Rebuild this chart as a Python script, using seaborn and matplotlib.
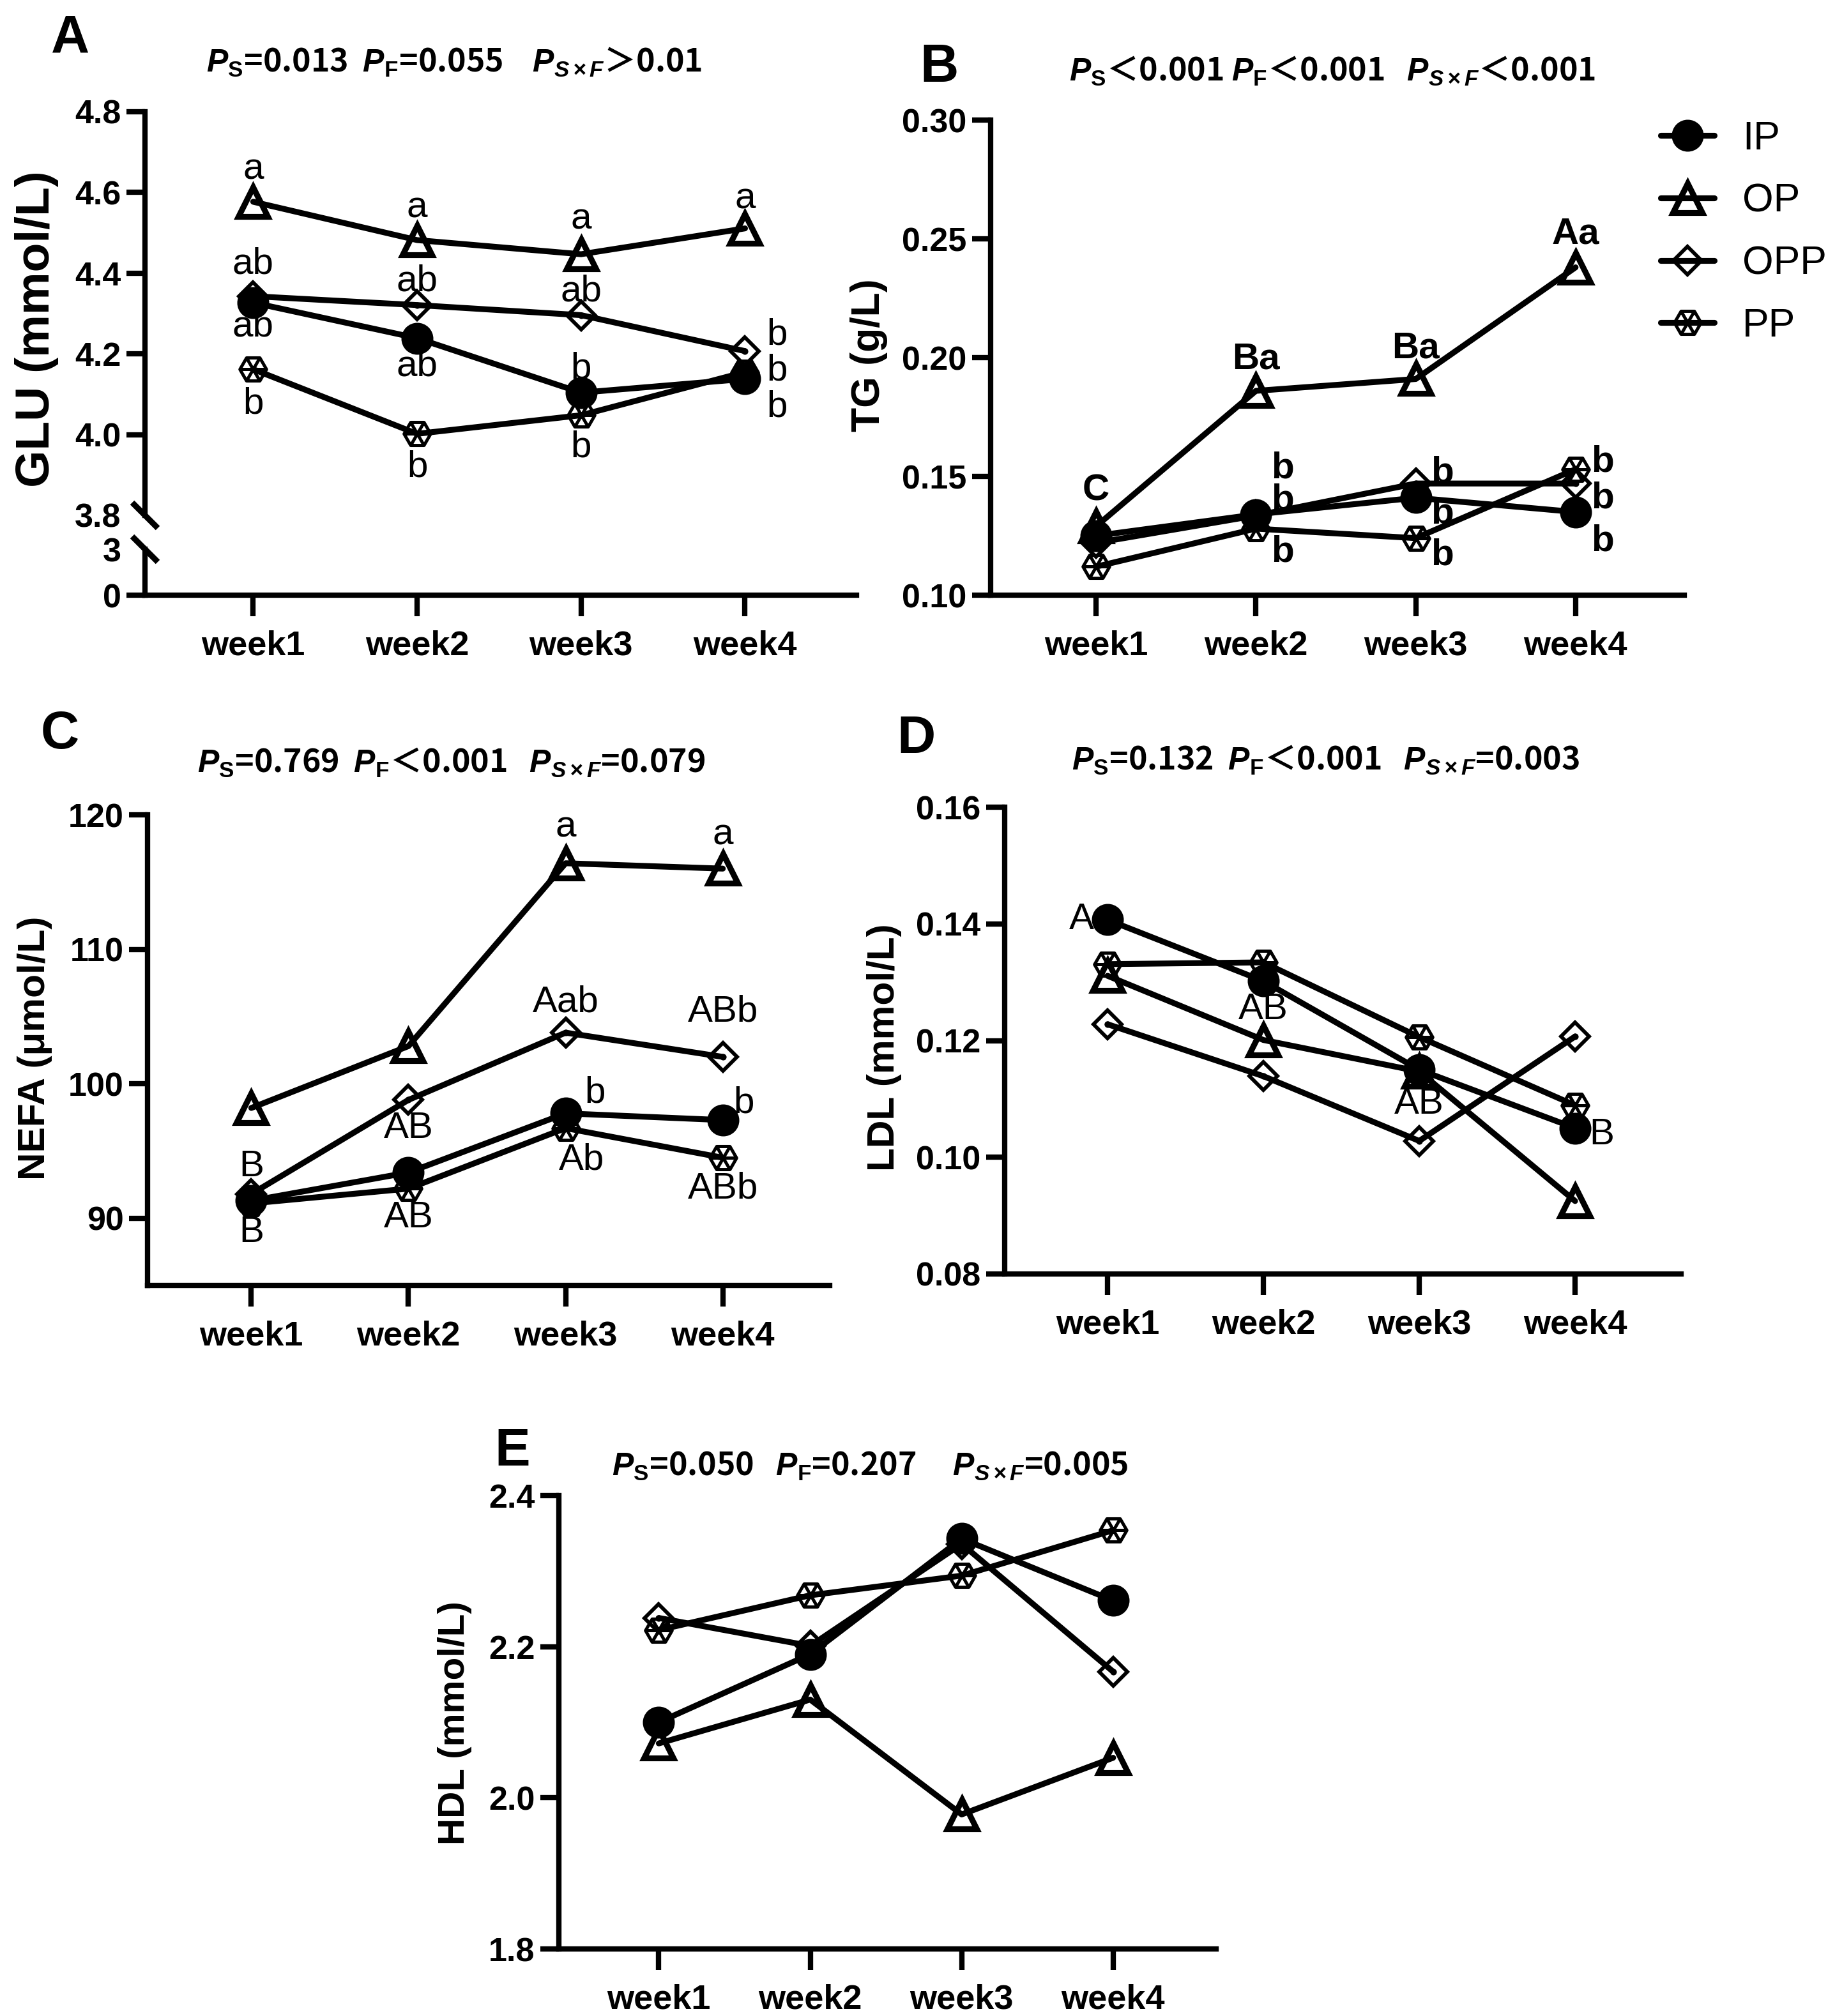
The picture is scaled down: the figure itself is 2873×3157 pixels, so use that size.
import numpy as np
import matplotlib
matplotlib.use("Agg")
import matplotlib.pyplot as plt
from matplotlib.path import Path
import seaborn as sns

# ---- values ----
weeks = ["week1", "week2", "week3", "week4"]
groups = ["IP", "OP", "OPP", "PP"]

glu_ip = [4.327, 4.239, 4.104, 4.138]
glu_op = [4.577, 4.482, 4.447, 4.511]
glu_opp = [4.343, 4.321, 4.296, 4.207]
glu_pp = [4.162, 4.002, 4.048, 4.155]

tg_ip = [0.125, 0.134, 0.141, 0.135]
tg_op = [0.129, 0.186, 0.191, 0.238]
tg_opp = [0.122, 0.1335, 0.147, 0.147]
tg_pp = [0.112, 0.128, 0.124, 0.153]

nefa_ip = [91.3, 93.4, 97.8, 97.3]
nefa_op = [98.2, 102.8, 116.4, 116.0]
nefa_opp = [91.8, 98.8, 103.8, 102.0]
nefa_pp = [91.1, 92.2, 96.7, 94.5]

ldl_ip = [0.1407, 0.1302, 0.1150, 0.1050]
ldl_op = [0.1311, 0.1201, 0.1147, 0.0925]
ldl_opp = [0.1228, 0.1139, 0.1028, 0.1207]
ldl_pp = [0.1331, 0.1334, 0.1206, 0.1089]

hdl_ip = [2.100, 2.190, 2.343, 2.261]
hdl_op = [2.072, 2.130, 1.978, 2.053]
hdl_opp = [2.238, 2.201, 2.336, 2.167]
hdl_pp = [2.222, 2.268, 2.294, 2.354]

glu_ticks_upper = [3.8, 4.0, 4.2, 4.4, 4.6, 4.8]
glu_ticks_lower = [0, 3]
tg_ticks = [0.10, 0.15, 0.20, 0.25, 0.30]
nefa_ticks = [90, 100, 110, 120]
ldl_ticks = [0.08, 0.10, 0.12, 0.14, 0.16]
hdl_ticks = [1.8, 2.0, 2.2, 2.4]

# significance letters: (group, week index, letter)
glu_letters = [("OP", 0, "a"), ("OP", 1, "a"), ("OP", 2, "a"), ("OP", 3, "a"),
               ("OPP", 0, "ab"), ("OPP", 1, "ab"), ("OPP", 2, "ab"), ("OPP", 3, "b"),
               ("IP", 0, "ab"), ("IP", 1, "ab"), ("IP", 2, "b"), ("IP", 3, "b"),
               ("PP", 0, "b"), ("PP", 1, "b"), ("PP", 2, "b"), ("PP", 3, "b")]
tg_letters = [("OP", 0, "C"), ("OP", 1, "Ba"), ("OP", 2, "Ba"), ("OP", 3, "Aa"),
              ("OPP", 1, "b"), ("IP", 1, "b"), ("PP", 1, "b"),
              ("OPP", 2, "b"), ("IP", 2, "b"), ("PP", 2, "b"),
              ("PP", 3, "b"), ("OPP", 3, "b"), ("IP", 3, "b")]
nefa_letters = [("OPP", 0, "B"), ("IP", 0, "B"),
                ("OPP", 1, "AB"), ("PP", 1, "AB"),
                ("OP", 2, "a"), ("OPP", 2, "Aab"), ("IP", 2, "b"), ("PP", 2, "Ab"),
                ("OP", 3, "a"), ("OPP", 3, "ABb"), ("IP", 3, "b"), ("PP", 3, "ABb")]
ldl_letters = [("IP", 0, "A"), ("IP", 1, "AB"), ("IP", 2, "AB"), ("IP", 3, "B")]

hdr_glu = r"$\mathbfit{P}_{\mathbf{S}}$=0.013  $\mathbfit{P}_{\mathbf{F}}$=0.055    $\mathbfit{P}_{\mathbfit{S\times F}}$＞0.01"
hdr_tg = r"$\mathbfit{P}_{\mathbf{S}}$＜0.001 $\mathbfit{P}_{\mathbf{F}}$＜0.001   $\mathbfit{P}_{\mathbfit{S\times F}}$＜0.001"
hdr_nefa = r"$\mathbfit{P}_{\mathbf{S}}$=0.769  $\mathbfit{P}_{\mathbf{F}}$＜0.001   $\mathbfit{P}_{\mathbfit{S\times F}}$=0.079"
hdr_ldl = r"$\mathbfit{P}_{\mathbf{S}}$=0.132  $\mathbfit{P}_{\mathbf{F}}$＜0.001   $\mathbfit{P}_{\mathbfit{S\times F}}$=0.003"
hdr_hdl = r"$\mathbfit{P}_{\mathbf{S}}$=0.050   $\mathbfit{P}_{\mathbf{F}}$=0.207     $\mathbfit{P}_{\mathbfit{S\times F}}$=0.005"

# ---- layout / style ----
W, H, DPI = 2873, 3157, 300
week_pos = np.arange(len(weeks))

sns.set_style("ticks")
plt.rcParams.update({
    "font.family": ["Liberation Sans", "DejaVu Sans"],
    "mathtext.fontset": "custom",
    "mathtext.rm": "Liberation Sans",
    "mathtext.it": "Liberation Sans:italic",
    "mathtext.bf": "Liberation Sans:bold",
    "mathtext.bfit": "Liberation Sans:italic:bold",
    "axes.linewidth": 2.0,
    "axes.edgecolor": "black",
    "axes.labelcolor": "black",
    "text.color": "black",
    "xtick.color": "black",
    "ytick.color": "black",
    "xtick.labelcolor": "black",
    "ytick.labelcolor": "black",
})

fig = plt.figure(figsize=(W / DPI, H / DPI), dpi=DPI)


def px_axes(left, top, right, bottom):
    return fig.add_axes([left / W, 1 - bottom / H, (right - left) / W, (bottom - top) / H])


# hexagon with its three diagonals (PP marker)
_ang = np.radians([0, 60, 120, 180, 240, 300])
_pts = [(np.cos(a), np.sin(a)) for a in _ang]
hex_marker = Path(_pts + [_pts[0], _pts[0], _pts[3], _pts[1], _pts[4], _pts[2], _pts[5]],
                  [Path.MOVETO] + [Path.LINETO] * 5 + [Path.CLOSEPOLY]
                  + [Path.MOVETO, Path.LINETO] * 3)

MARKER_KW = {
    "IP": dict(marker="o", ms=10.5, mfc="black", mec="black", mew=1.5),
    "OP": dict(marker="^", ms=11, mfc="none", mec="black", mew=2.2),
    "OPP": dict(marker="D", ms=7.5, mfc="none", mec="black", mew=1.4),
    "PP": dict(marker=hex_marker, ms=10, mfc="none", mec="black", mew=1.2),
}


def draw_series(ax, series):
    for g in groups:
        sns.lineplot(x=week_pos, y=series[g], ax=ax, color="black", lw=2.2,
                     label=g, **MARKER_KW[g])
    # small dot in the centre of the diamonds
    sns.scatterplot(x=week_pos, y=series["OPP"], ax=ax, color="black", s=6,
                    linewidth=0, zorder=3)


def finish_axes(ax, yticks, fmt, ylim, show_x=True):
    ax.set_xlim(-0.66, 3.68)
    ax.set_ylim(*ylim)
    ax.set_yticks(yticks, [fmt.format(t) for t in yticks], fontsize=12.5, fontweight="bold")
    ax.tick_params(axis="y", length=7, width=2, pad=2)
    if show_x:
        ax.set_xticks(week_pos, weeks, fontsize=13, fontweight="bold")
        ax.tick_params(axis="x", length=8, width=2, pad=5)
    else:
        ax.tick_params(axis="x", bottom=False, labelbottom=False)
    sns.despine(ax=ax)
    if not show_x:
        ax.spines["bottom"].set_visible(False)
    ax.set_xlabel("")
    ax.set_ylabel("")
    if ax.get_legend() is not None:
        ax.get_legend().remove()


def add_letters(ax, series, letters, offsets, bold=False):
    for (g, i, txt), (dx, dy) in zip(letters, offsets):
        ax.annotate(txt, xy=(week_pos[i], series[g][i]), xytext=(dx, dy),
                    textcoords="offset points", ha="center", va="center",
                    fontsize=14, fontweight="bold" if bold else "normal",
                    annotation_clip=False)


def break_mark(ax, y0, w_px, h_px):
    dx, dy = 20 / w_px, 20 / h_px
    ax.plot([-dx, dx], [y0 + dy, y0 - dy], transform=ax.transAxes, color="black",
            lw=2.2, clip_on=False, solid_capstyle="butt")


def header(x_px, y_px, text):
    fig.text(x_px / W, 1 - y_px / H, text, ha="left", va="center", fontsize=12,
             fontweight="bold", family=["Noto Sans CJK SC", "DejaVu Sans"])


def panel_tag(x_px, y_px, text):
    fig.text(x_px / W, 1 - y_px / H, text, ha="center", va="center", fontsize=20,
             fontweight="bold")


def ylabel(x_px, y_px, text, size):
    fig.text(x_px / W, 1 - y_px / H, text, rotation=90, ha="center", va="center",
             fontsize=size, fontweight="bold")


# ---- A: GLU with broken axis ----
glu = {"IP": glu_ip, "OP": glu_op, "OPP": glu_opp, "PP": glu_pp}
ax_a = px_axes(227, 175, 1341, 807)
ax_a0 = px_axes(227, 860, 1341, 932)
draw_series(ax_a, glu)
finish_axes(ax_a, glu_ticks_upper, "{:.1f}", (3.8, 4.8), show_x=False)
ax_a.yaxis.get_major_ticks()[0].tick1line.set_visible(False)
break_mark(ax_a, 0, 1114, 632)
finish_axes(ax_a0, glu_ticks_lower, "{:d}", (0, 3))
ax_a0.yaxis.get_major_ticks()[1].tick1line.set_visible(False)
break_mark(ax_a0, 1, 1114, 72)
glu_off = [(0, 12), (0, 12), (0, 13), (0, 11),
           (0, 12), (0, 9), (0, 9), (12, 6),
           (0, -9), (0, -10.5), (0, 9), (12, -10.5),
           (0, -13), (0, -12.5), (0, -12), (12, 0.5)]
add_letters(ax_a, glu, glu_letters, glu_off)

# ---- B: TG ----
tg = {"IP": tg_ip, "OP": tg_op, "OPP": tg_opp, "PP": tg_pp}
ax_b = px_axes(1551, 188, 2637, 932)
draw_series(ax_b, tg)
finish_axes(ax_b, tg_ticks, "{:.2f}", (0.10, 0.30))
tg_off = [(0, 13.4), (0, 11.8), (0, 11.6), (0, 12.5),
          (10, 17.8), (10, 5.2), (10, -8.9),
          (10, 4), (10, -5.9), (10, -6.4),
          (10, 2.7), (10, -5.6), (10, -11)]
add_letters(ax_b, tg, tg_letters, tg_off, bold=True)
h, l = ax_b.get_legend_handles_labels()
keep = [k for k, lab in enumerate(l) if lab in groups]
ax_b.legend([h[k] for k in keep], [l[k] for k in keep], loc="upper left",
            bbox_to_anchor=(2600 / W, 1 - 188 / H), bbox_transform=fig.transFigure,
            frameon=False, prop={"size": 15}, handlelength=1.35, handletextpad=0.7,
            labelspacing=0.62, borderpad=0, borderaxespad=0)

# ---- C: NEFA ----
nefa = {"IP": nefa_ip, "OP": nefa_op, "OPP": nefa_opp, "PP": nefa_pp}
ax_c = px_axes(231, 1276, 1299, 2013)
draw_series(ax_c, nefa)
finish_axes(ax_c, nefa_ticks, "{:d}", (85, 120))
nefa_off = [(0, 10.3), (0, -12),
            (0, -10.6), (0, -11),
            (0, 13.6), (0, 11.4), (11, 7.6), (6, -12),
            (0, 12.6), (0, 17), (8, 6.3), (0, -11.6)]
add_letters(ax_c, nefa, nefa_letters, nefa_off)

# ---- D: LDL ----
ldl = {"IP": ldl_ip, "OP": ldl_op, "OPP": ldl_opp, "PP": ldl_pp}
ax_d = px_axes(1573, 1264, 2632, 1995)
draw_series(ax_d, ldl)
finish_axes(ax_d, ldl_ticks, "{:.2f}", (0.08, 0.16))
add_letters(ax_d, ldl, ldl_letters, [(-9.7, 0), (0, -10.7), (0, -13), (10, -2.4)])

# ---- E: HDL ----
hdl = {"IP": hdl_ip, "OP": hdl_op, "OPP": hdl_opp, "PP": hdl_pp}
ax_e = px_axes(875, 2342, 1904, 3052)
draw_series(ax_e, hdl)
finish_axes(ax_e, hdl_ticks, "{:.1f}", (1.8, 2.4))

# ---- texts ----
panel_tag(110, 60, "A")
panel_tag(1471, 106, "B")
panel_tag(94, 1150, "C")
panel_tag(1435, 1157, "D")
panel_tag(802, 2273, "E")

header(323, 98, hdr_glu)
header(1674, 112, hdr_tg)
header(309, 1195, hdr_nefa)
header(1678, 1191, hdr_ldl)
header(958, 2296, hdr_hdl)

ylabel(58, 515, "GLU (mmol/L)", 18)
ylabel(1361, 556, "TG (g/L)", 15)
ylabel(55, 1641, "NEFA (μmol/L)", 14.5)
ylabel(1385, 1640, "LDL (mmol/L)", 14.5)
ylabel(712, 2698, "HDL (mmol/L)", 14)

fig.savefig("out.png", dpi=DPI)
